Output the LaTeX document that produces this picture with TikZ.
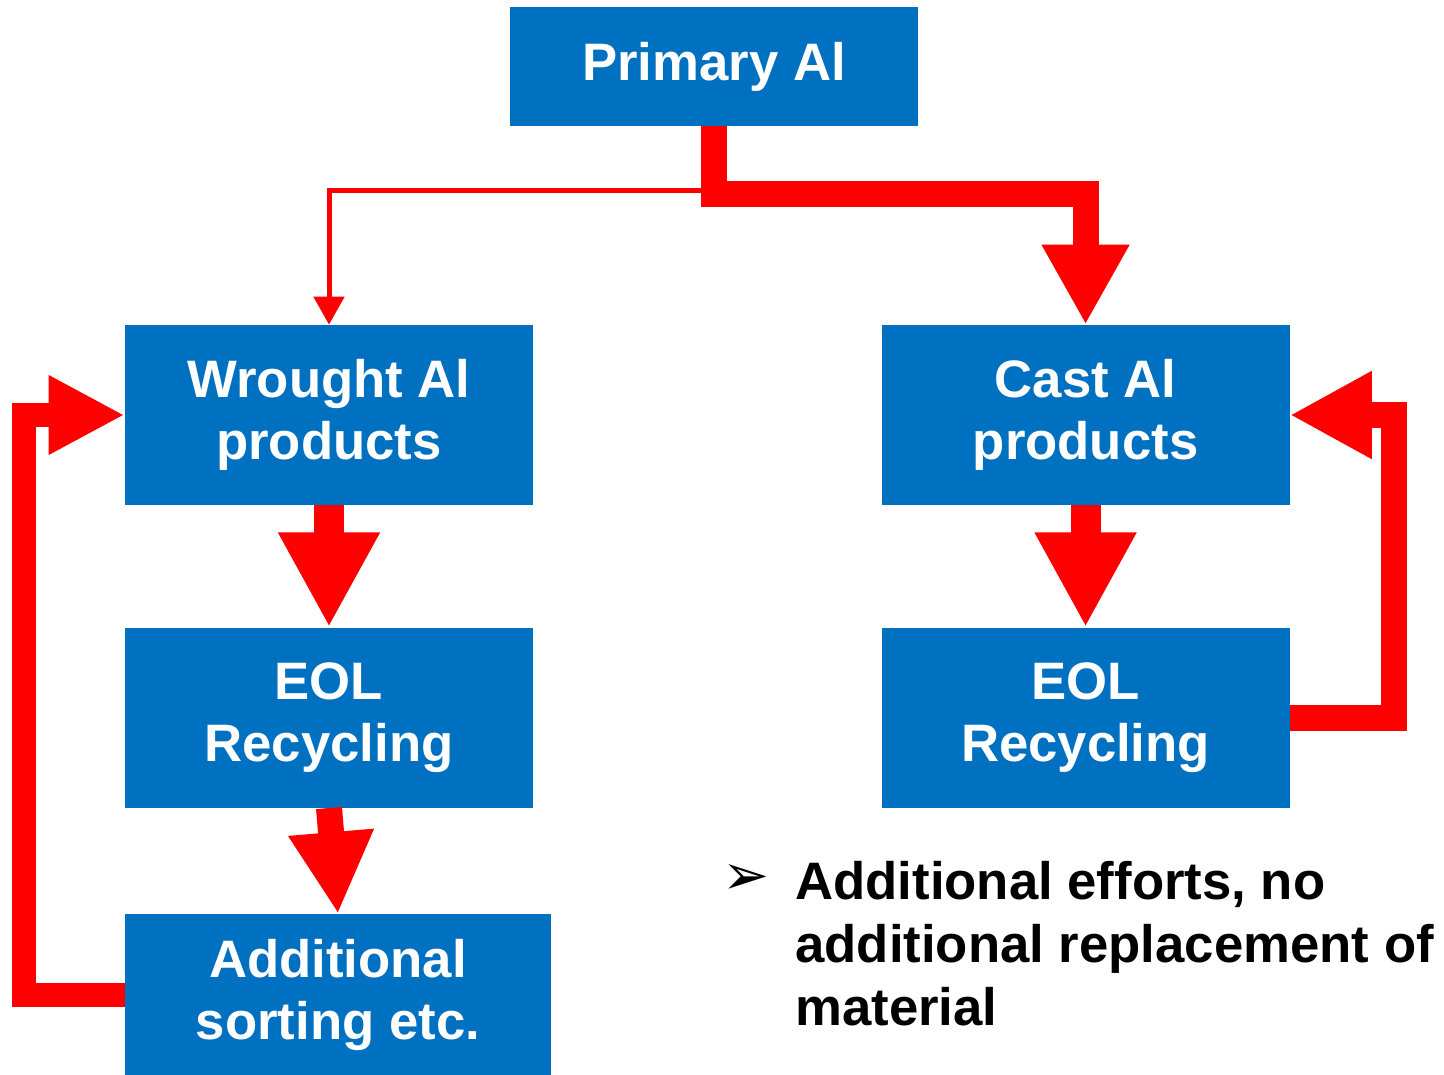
\documentclass[tikz,border=0pt]{standalone}
\usepackage{fontspec}
\setmainfont{Liberation Sans}
\newfontfamily\dingfont{DejaVu Sans}
\usepackage{tikz}
\usetikzlibrary{
  arrows.meta,
  positioning,
  calc
}
\definecolor{alblue} {RGB}{0, 112, 192}
\definecolor{flowred}{RGB}{255, 0,   0}
\tikzset{
  stage/.style={
    fill=alblue, text=white, inner sep=0pt,
    minimum width=8.16cm, minimum height=3.6cm,
    align=center, font=\fontsize{30}{35.3}\selectfont\bfseries
  },
  flow/.style={
    draw=flowred, line width=#1
  },
  notetext/.style={
    inner sep=0pt, align=left,
    font=\fontsize{30}{35.8}\selectfont\bfseries
  },
}

\begin{document}
\begin{tikzpicture}[x=0.02cm, y=-0.02cm]
\useasboundingbox (0,0) rectangle (1444,1075);

% ── Process boxes ─────────────────────────────────────────────────────────────
\node[stage, minimum height=2.38cm] (primary) at (714,66.5) {Primary Al};

\node[stage] (wrought) at (329,415) {Wrought Al\\products};
\node[stage, below=2.44cm of wrought] (eolleft) {EOL\\Recycling};
\node[stage, minimum width=8.52cm, minimum height=3.22cm,
      below=2.12cm of eolleft.south west, anchor=north west] (sorting) {
  Additional\\sorting etc.
};

\node[stage, right=6.96cm of wrought] (cast) {Cast Al\\products};
\node[stage, below=2.44cm of cast] (eolright) {EOL\\Recycling};

% ── Split below primary ───────────────────────────────────────────────────────
\coordinate (split) at (715,190);
\draw[flow=0.1cm, -{Triangle[length=0.56cm, width=0.6cm]}]
  (split) -| (wrought.north);
\draw[flow=0.52cm, -{Triangle[length=1.6cm, width=1.64cm]}]
  (primary.south) -- ($(primary.south)+(0,68)$) -| (cast.north);

% ── Downward flows ────────────────────────────────────────────────────────────
\draw[flow=0.6cm, -{Triangle[length=1.9cm, width=1.9cm]}] (wrought) -- (eolleft);
\draw[flow=0.52cm, -{Triangle[length=1.64cm, width=1.6cm]}]
  (eolleft.south) -- (sorting.north);
\draw[flow=0.6cm, -{Triangle[length=1.9cm, width=1.9cm]}] (cast) -- (eolright);

% ── Recycling loops ───────────────────────────────────────────────────────────
\draw[flow=0.48cm, -{Triangle[length=1.52cm, width=1.48cm]}]
  (sorting.west) -| ($(wrought.west)+(-101,0)$) -- (wrought.west);
\draw[flow=0.52cm, -{Triangle[length=1.64cm, width=1.64cm]}]
  (eolright.east) -| ($(cast.east)+(104,0)$) -- (cast.east);

% ── Note ──────────────────────────────────────────────────────────────────────
\node[notetext, anchor=north west] (note) at (795,861) {
  Additional efforts, no\\additional replacement of\\material
};
\node[inner sep=0pt, anchor=west, font=\dingfont\fontsize{32}{32}\selectfont]
  (bullet) at (722,880) {➢};

\end{tikzpicture}
\end{document}
